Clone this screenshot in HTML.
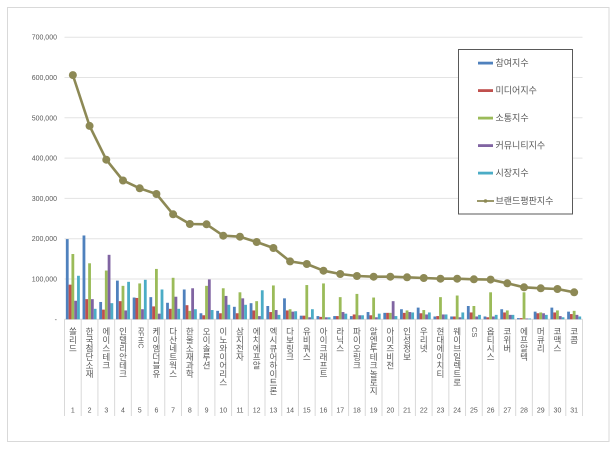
<!DOCTYPE html>
<html><head><meta charset="utf-8">
<style>
html,body{margin:0;padding:0;background:#fff;}
#w{position:relative;width:615px;height:451px;overflow:hidden;background:#fff;font-family:"Liberation Sans","Noto Sans CJK KR",sans-serif;}
svg{position:absolute;left:0;top:0;}
.b{fill:#4F81BD}.r{fill:#C0504D}.g{fill:#9BBB59}.p{fill:#8064A2}.c{fill:#4BACC6}
.lb{position:absolute;top:327px;width:10px;writing-mode:vertical-rl;text-orientation:mixed;font-size:8.5px;line-height:10px;color:#595959;white-space:nowrap;}
</style></head><body><div id="w">
<svg width="615" height="451" viewBox="0 0 615 451" xmlns="http://www.w3.org/2000/svg">
<rect x="7.5" y="7.5" width="601.5" height="434" fill="#fff" stroke="#d9d9d9"/>
<g stroke="#e3e3e3" stroke-width="1">
<line x1="64.5" x2="582.5" y1="37.2" y2="37.2"/>
<line x1="64.5" x2="582.5" y1="77.5" y2="77.5"/>
<line x1="64.5" x2="582.5" y1="117.8" y2="117.8"/>
<line x1="64.5" x2="582.5" y1="158.1" y2="158.1"/>
<line x1="64.5" x2="582.5" y1="198.4" y2="198.4"/>
<line x1="64.5" x2="582.5" y1="238.7" y2="238.7"/>
<line x1="64.5" x2="582.5" y1="279" y2="279"/>
</g>
<g font-size="7" fill="#595959" text-anchor="end" font-family="Liberation Sans, sans-serif">
<text x="57" y="39.7">700,000</text>
<text x="57" y="80">600,000</text>
<text x="57" y="120.3">500,000</text>
<text x="57" y="160.6">400,000</text>
<text x="57" y="200.9">300,000</text>
<text x="57" y="241.2">200,000</text>
<text x="57" y="281.5">100,000</text>
<text x="57" y="321.8">-</text>
</g>
<g stroke="#d9d9d9" stroke-width="1">
<line x1="64.5" x2="64.5" y1="319.3" y2="416"/>
<line x1="81.21" x2="81.21" y1="319.3" y2="416"/>
<line x1="97.92" x2="97.92" y1="319.3" y2="416"/>
<line x1="114.63" x2="114.63" y1="319.3" y2="416"/>
<line x1="131.34" x2="131.34" y1="319.3" y2="416"/>
<line x1="148.05" x2="148.05" y1="319.3" y2="416"/>
<line x1="164.76" x2="164.76" y1="319.3" y2="416"/>
<line x1="181.47" x2="181.47" y1="319.3" y2="416"/>
<line x1="198.18" x2="198.18" y1="319.3" y2="416"/>
<line x1="214.89" x2="214.89" y1="319.3" y2="416"/>
<line x1="231.6" x2="231.6" y1="319.3" y2="416"/>
<line x1="248.31" x2="248.31" y1="319.3" y2="416"/>
<line x1="265.02" x2="265.02" y1="319.3" y2="416"/>
<line x1="281.73" x2="281.73" y1="319.3" y2="416"/>
<line x1="298.44" x2="298.44" y1="319.3" y2="416"/>
<line x1="315.15" x2="315.15" y1="319.3" y2="416"/>
<line x1="331.86" x2="331.86" y1="319.3" y2="416"/>
<line x1="348.57" x2="348.57" y1="319.3" y2="416"/>
<line x1="365.28" x2="365.28" y1="319.3" y2="416"/>
<line x1="381.99" x2="381.99" y1="319.3" y2="416"/>
<line x1="398.7" x2="398.7" y1="319.3" y2="416"/>
<line x1="415.41" x2="415.41" y1="319.3" y2="416"/>
<line x1="432.12" x2="432.12" y1="319.3" y2="416"/>
<line x1="448.83" x2="448.83" y1="319.3" y2="416"/>
<line x1="465.54" x2="465.54" y1="319.3" y2="416"/>
<line x1="482.25" x2="482.25" y1="319.3" y2="416"/>
<line x1="498.96" x2="498.96" y1="319.3" y2="416"/>
<line x1="515.67" x2="515.67" y1="319.3" y2="416"/>
<line x1="532.38" x2="532.38" y1="319.3" y2="416"/>
<line x1="549.09" x2="549.09" y1="319.3" y2="416"/>
<line x1="565.8" x2="565.8" y1="319.3" y2="416"/>
<line x1="582.51" x2="582.51" y1="319.3" y2="416"/>
<line x1="64.5" x2="582.5" y1="319.3" y2="319.3"/>
</g>
<g transform="translate(0 319.3) scale(1 -0.403)">
<g transform="translate(64.5 0)"><rect class="b" x="1.35" width="2.8" height="199"/><rect class="r" x="4.15" width="2.8" height="86"/><rect class="g" x="6.95" width="2.8" height="162"/><rect class="p" x="9.75" width="2.8" height="46"/><rect class="c" x="12.55" width="2.8" height="108"/></g>
<g transform="translate(81.21 0)"><rect class="b" x="1.35" width="2.8" height="208"/><rect class="r" x="4.15" width="2.8" height="50"/><rect class="g" x="6.95" width="2.8" height="139"/><rect class="p" x="9.75" width="2.8" height="50"/><rect class="c" x="12.55" width="2.8" height="26"/></g>
<g transform="translate(97.92 0)"><rect class="b" x="1.35" width="2.8" height="43"/><rect class="r" x="4.15" width="2.8" height="24"/><rect class="g" x="6.95" width="2.8" height="121"/><rect class="p" x="9.75" width="2.8" height="160"/><rect class="c" x="12.55" width="2.8" height="40"/></g>
<g transform="translate(114.63 0)"><rect class="b" x="1.35" width="2.8" height="96"/><rect class="r" x="4.15" width="2.8" height="45"/><rect class="g" x="6.95" width="2.8" height="83"/><rect class="p" x="9.75" width="2.8" height="22"/><rect class="c" x="12.55" width="2.8" height="93"/></g>
<g transform="translate(131.34 0)"><rect class="b" x="1.35" width="2.8" height="54"/><rect class="r" x="4.15" width="2.8" height="53"/><rect class="g" x="6.95" width="2.8" height="89"/><rect class="p" x="9.75" width="2.8" height="25"/><rect class="c" x="12.55" width="2.8" height="98"/></g>
<g transform="translate(148.05 0)"><rect class="b" x="1.35" width="2.8" height="55"/><rect class="r" x="4.15" width="2.8" height="32"/><rect class="g" x="6.95" width="2.8" height="125"/><rect class="p" x="9.75" width="2.8" height="14"/><rect class="c" x="12.55" width="2.8" height="74"/></g>
<g transform="translate(164.76 0)"><rect class="b" x="1.35" width="2.8" height="41"/><rect class="r" x="4.15" width="2.8" height="26"/><rect class="g" x="6.95" width="2.8" height="103"/><rect class="p" x="9.75" width="2.8" height="56"/><rect class="c" x="12.55" width="2.8" height="26"/></g>
<g transform="translate(181.47 0)"><rect class="b" x="1.35" width="2.8" height="74"/><rect class="r" x="4.15" width="2.8" height="35"/><rect class="g" x="6.95" width="2.8" height="21"/><rect class="p" x="9.75" width="2.8" height="77"/><rect class="c" x="12.55" width="2.8" height="25"/></g>
<g transform="translate(198.18 0)"><rect class="b" x="1.35" width="2.8" height="15"/><rect class="r" x="4.15" width="2.8" height="10"/><rect class="g" x="6.95" width="2.8" height="83"/><rect class="p" x="9.75" width="2.8" height="99"/><rect class="c" x="12.55" width="2.8" height="23"/></g>
<g transform="translate(214.89 0)"><rect class="b" x="1.35" width="2.8" height="21"/><rect class="r" x="4.15" width="2.8" height="15"/><rect class="g" x="6.95" width="2.8" height="77"/><rect class="p" x="9.75" width="2.8" height="58"/><rect class="c" x="12.55" width="2.8" height="36"/></g>
<g transform="translate(231.6 0)"><rect class="b" x="1.35" width="2.8" height="31"/><rect class="r" x="4.15" width="2.8" height="15"/><rect class="g" x="6.95" width="2.8" height="67"/><rect class="p" x="9.75" width="2.8" height="52"/><rect class="c" x="12.55" width="2.8" height="36"/></g>
<g transform="translate(248.31 0)"><rect class="b" x="1.35" width="2.8" height="40"/><rect class="r" x="4.15" width="2.8" height="22"/><rect class="g" x="6.95" width="2.8" height="45"/><rect class="p" x="9.75" width="2.8" height="8"/><rect class="c" x="12.55" width="2.8" height="72"/></g>
<g transform="translate(265.02 0)"><rect class="b" x="1.35" width="2.8" height="33"/><rect class="r" x="4.15" width="2.8" height="18"/><rect class="g" x="6.95" width="2.8" height="84"/><rect class="p" x="9.75" width="2.8" height="23"/><rect class="c" x="12.55" width="2.8" height="11"/></g>
<g transform="translate(281.73 0)"><rect class="b" x="1.35" width="2.8" height="52"/><rect class="r" x="4.15" width="2.8" height="22"/><rect class="g" x="6.95" width="2.8" height="25"/><rect class="p" x="9.75" width="2.8" height="19"/><rect class="c" x="12.55" width="2.8" height="20"/></g>
<g transform="translate(298.44 0)"><rect class="b" x="1.35" width="2.8" height="9"/><rect class="r" x="4.15" width="2.8" height="9"/><rect class="g" x="6.95" width="2.8" height="85"/><rect class="p" x="9.75" width="2.8" height="5"/><rect class="c" x="12.55" width="2.8" height="25"/></g>
<g transform="translate(315.15 0)"><rect class="b" x="1.35" width="2.8" height="8"/><rect class="r" x="4.15" width="2.8" height="6"/><rect class="g" x="6.95" width="2.8" height="89"/><rect class="p" x="9.75" width="2.8" height="5"/><rect class="c" x="12.55" width="2.8" height="5"/></g>
<g transform="translate(331.86 0)"><rect class="b" x="1.35" width="2.8" height="8"/><rect class="r" x="4.15" width="2.8" height="8"/><rect class="g" x="6.95" width="2.8" height="55"/><rect class="p" x="9.75" width="2.8" height="18"/><rect class="c" x="12.55" width="2.8" height="14"/></g>
<g transform="translate(348.57 0)"><rect class="b" x="1.35" width="2.8" height="8"/><rect class="r" x="4.15" width="2.8" height="12"/><rect class="g" x="6.95" width="2.8" height="63"/><rect class="p" x="9.75" width="2.8" height="10"/><rect class="c" x="12.55" width="2.8" height="10"/></g>
<g transform="translate(365.28 0)"><rect class="b" x="1.35" width="2.8" height="18"/><rect class="r" x="4.15" width="2.8" height="10"/><rect class="g" x="6.95" width="2.8" height="54"/><rect class="p" x="9.75" width="2.8" height="5"/><rect class="c" x="12.55" width="2.8" height="14"/></g>
<g transform="translate(381.99 0)"><rect class="b" x="1.35" width="2.8" height="16"/><rect class="r" x="4.15" width="2.8" height="16"/><rect class="g" x="6.95" width="2.8" height="16"/><rect class="p" x="9.75" width="2.8" height="45"/><rect class="c" x="12.55" width="2.8" height="8"/></g>
<g transform="translate(398.7 0)"><rect class="b" x="1.35" width="2.8" height="25"/><rect class="r" x="4.15" width="2.8" height="16"/><rect class="g" x="6.95" width="2.8" height="22"/><rect class="p" x="9.75" width="2.8" height="18"/><rect class="c" x="12.55" width="2.8" height="17"/></g>
<g transform="translate(415.41 0)"><rect class="b" x="1.35" width="2.8" height="29"/><rect class="r" x="4.15" width="2.8" height="15"/><rect class="g" x="6.95" width="2.8" height="23"/><rect class="p" x="9.75" width="2.8" height="12"/><rect class="c" x="12.55" width="2.8" height="17"/></g>
<g transform="translate(432.12 0)"><rect class="b" x="1.35" width="2.8" height="7"/><rect class="r" x="4.15" width="2.8" height="8"/><rect class="g" x="6.95" width="2.8" height="55"/><rect class="p" x="9.75" width="2.8" height="12"/><rect class="c" x="12.55" width="2.8" height="12"/></g>
<g transform="translate(448.83 0)"><rect class="b" x="1.35" width="2.8" height="7"/><rect class="r" x="4.15" width="2.8" height="7"/><rect class="g" x="6.95" width="2.8" height="59"/><rect class="p" x="9.75" width="2.8" height="5"/><rect class="c" x="12.55" width="2.8" height="17"/></g>
<g transform="translate(465.54 0)"><rect class="b" x="1.35" width="2.8" height="33"/><rect class="r" x="4.15" width="2.8" height="17"/><rect class="g" x="6.95" width="2.8" height="33"/><rect class="p" x="9.75" width="2.8" height="7"/><rect class="c" x="12.55" width="2.8" height="11"/></g>
<g transform="translate(482.25 0)"><rect class="b" x="1.35" width="2.8" height="7"/><rect class="r" x="4.15" width="2.8" height="5"/><rect class="g" x="6.95" width="2.8" height="67"/><rect class="p" x="9.75" width="2.8" height="7"/><rect class="c" x="12.55" width="2.8" height="11"/></g>
<g transform="translate(498.96 0)"><rect class="b" x="1.35" width="2.8" height="25"/><rect class="r" x="4.15" width="2.8" height="17"/><rect class="g" x="6.95" width="2.8" height="22"/><rect class="p" x="9.75" width="2.8" height="11"/><rect class="c" x="12.55" width="2.8" height="11"/></g>
<g transform="translate(515.67 0)"><rect class="b" x="1.35" width="2.8" height="3"/><rect class="r" x="4.15" width="2.8" height="3"/><rect class="g" x="6.95" width="2.8" height="67"/><rect class="p" x="9.75" width="2.8" height="2"/><rect class="c" x="12.55" width="2.8" height="2"/></g>
<g transform="translate(532.38 0)"><rect class="b" x="1.35" width="2.8" height="19"/><rect class="r" x="4.15" width="2.8" height="15"/><rect class="g" x="6.95" width="2.8" height="17"/><rect class="p" x="9.75" width="2.8" height="15"/><rect class="c" x="12.55" width="2.8" height="11"/></g>
<g transform="translate(549.09 0)"><rect class="b" x="1.35" width="2.8" height="29"/><rect class="r" x="4.15" width="2.8" height="17"/><rect class="g" x="6.95" width="2.8" height="22"/><rect class="p" x="9.75" width="2.8" height="8"/><rect class="c" x="12.55" width="2.8" height="5"/></g>
<g transform="translate(565.8 0)"><rect class="b" x="1.35" width="2.8" height="19"/><rect class="r" x="4.15" width="2.8" height="13"/><rect class="g" x="6.95" width="2.8" height="21"/><rect class="p" x="9.75" width="2.8" height="11"/><rect class="c" x="12.55" width="2.8" height="7"/></g>
</g>
<polyline fill="none" stroke="#8d8955" stroke-width="2.6" stroke-linejoin="round" points="72.86,75.1 89.57,125.9 106.28,159.7 122.99,180.5 139.7,188.3 156.41,194 173.12,214.3 189.83,224 206.54,224.3 223.25,235.7 239.96,236.7 256.67,242 273.38,248 290.09,261.4 306.8,264 323.51,270.7 340.22,274 356.93,276 373.64,276.7 390.35,276.7 407.06,277.3 423.77,278 440.48,278.7 457.19,278.7 473.9,279.3 490.61,279.6 507.32,283.3 524.03,287.3 540.74,288.3 557.45,289 574.16,292.3"/>
<g fill="#8d8955">
<circle cx="72.86" cy="75.1" r="4"/><circle cx="89.57" cy="125.9" r="4"/><circle cx="106.28" cy="159.7" r="4"/><circle cx="122.99" cy="180.5" r="4"/><circle cx="139.7" cy="188.3" r="4"/><circle cx="156.41" cy="194" r="4"/><circle cx="173.12" cy="214.3" r="4"/><circle cx="189.83" cy="224" r="4"/><circle cx="206.54" cy="224.3" r="4"/><circle cx="223.25" cy="235.7" r="4"/><circle cx="239.96" cy="236.7" r="4"/><circle cx="256.67" cy="242" r="4"/><circle cx="273.38" cy="248" r="4"/><circle cx="290.09" cy="261.4" r="4"/><circle cx="306.8" cy="264" r="4"/><circle cx="323.51" cy="270.7" r="4"/><circle cx="340.22" cy="274" r="4"/><circle cx="356.93" cy="276" r="4"/><circle cx="373.64" cy="276.7" r="4"/><circle cx="390.35" cy="276.7" r="4"/><circle cx="407.06" cy="277.3" r="4"/><circle cx="423.77" cy="278" r="4"/><circle cx="440.48" cy="278.7" r="4"/><circle cx="457.19" cy="278.7" r="4"/><circle cx="473.9" cy="279.3" r="4"/><circle cx="490.61" cy="279.6" r="4"/><circle cx="507.32" cy="283.3" r="4"/><circle cx="524.03" cy="287.3" r="4"/><circle cx="540.74" cy="288.3" r="4"/><circle cx="557.45" cy="289" r="4"/><circle cx="574.16" cy="292.3" r="4"/>
</g>
<g font-size="7" fill="#595959" text-anchor="middle" font-family="Liberation Sans, sans-serif">
<text x="72.86" y="412.5">1</text><text x="89.57" y="412.5">2</text><text x="106.28" y="412.5">3</text><text x="122.99" y="412.5">4</text><text x="139.7" y="412.5">5</text><text x="156.41" y="412.5">6</text><text x="173.12" y="412.5">7</text><text x="189.83" y="412.5">8</text><text x="206.54" y="412.5">9</text><text x="223.25" y="412.5">10</text><text x="239.96" y="412.5">11</text><text x="256.67" y="412.5">12</text><text x="273.38" y="412.5">13</text><text x="290.09" y="412.5">14</text><text x="306.8" y="412.5">15</text><text x="323.51" y="412.5">16</text><text x="340.22" y="412.5">17</text><text x="356.93" y="412.5">18</text><text x="373.64" y="412.5">19</text><text x="390.35" y="412.5">20</text><text x="407.06" y="412.5">21</text><text x="423.77" y="412.5">22</text><text x="440.48" y="412.5">23</text><text x="457.19" y="412.5">24</text><text x="473.9" y="412.5">25</text><text x="490.61" y="412.5">26</text><text x="507.32" y="412.5">27</text><text x="524.03" y="412.5">28</text><text x="540.74" y="412.5">29</text><text x="557.45" y="412.5">30</text><text x="574.16" y="412.5">31</text>
</g>
<rect x="458.5" y="49.5" width="114" height="164.5" fill="#fff" stroke="#595959" stroke-width="1"/>
<rect x="478" y="61.7" width="15" height="2.8" fill="#4F81BD"/>
<rect x="478" y="89.2" width="15" height="2.8" fill="#C0504D"/>
<rect x="478" y="116.7" width="15" height="2.8" fill="#9BBB59"/>
<rect x="478" y="144.2" width="15" height="2.8" fill="#8064A2"/>
<rect x="478" y="171.7" width="15" height="2.8" fill="#4BACC6"/>
<line x1="477" x2="494" y1="201" y2="201" stroke="#8d8955" stroke-width="1.8"/>
<circle cx="485.5" cy="201" r="1.8" fill="#8d8955"/>
<g font-size="9" fill="#595959" font-family="Liberation Sans, Noto Sans CJK KR, sans-serif">
<text x="495.5" y="66.2">참여지수</text>
<text x="495.5" y="93.7">미디어지수</text>
<text x="495.5" y="121.2">소통지수</text>
<text x="495.5" y="148.7">커뮤니티지수</text>
<text x="495.5" y="176.2">시장지수</text>
<text x="495.5" y="204.2">브랜드평판지수</text>
</g>
</svg>
<div class="lb" style="left:67.86px">쏠리드</div>
<div class="lb" style="left:84.57px">한국첨단소재</div>
<div class="lb" style="left:101.28px">에이스테크</div>
<div class="lb" style="left:117.99px">인텔리안테크</div>
<div class="lb" style="left:134.7px;font-size:7px">RFHIC</div>
<div class="lb" style="left:151.41px">케이엠더블유</div>
<div class="lb" style="left:168.12px">다산네트웍스</div>
<div class="lb" style="left:184.83px">한울소재과학</div>
<div class="lb" style="left:201.54px">오이솔루션</div>
<div class="lb" style="left:218.25px">이노와이어리스</div>
<div class="lb" style="left:234.96px">삼지전자</div>
<div class="lb" style="left:251.67px">에치에프알</div>
<div class="lb" style="left:268.38px">엑시큐어하이트론</div>
<div class="lb" style="left:285.09px">다보링크</div>
<div class="lb" style="left:301.8px">유비쿼스</div>
<div class="lb" style="left:318.51px">아이크래프트</div>
<div class="lb" style="left:335.22px">라닉스</div>
<div class="lb" style="left:351.93px">파이오링크</div>
<div class="lb" style="left:368.64px">알엔투테크놀로지</div>
<div class="lb" style="left:385.35px">아이즈비전</div>
<div class="lb" style="left:402.06px">인성정보</div>
<div class="lb" style="left:418.77px">우리넷</div>
<div class="lb" style="left:435.48px">현대에이치티</div>
<div class="lb" style="left:452.19px">웨이브일렉트로</div>
<div class="lb" style="left:468.9px;font-size:7.5px">CS</div>
<div class="lb" style="left:485.61px">옵티시스</div>
<div class="lb" style="left:502.32px">코위버</div>
<div class="lb" style="left:519.03px">에프알텍</div>
<div class="lb" style="left:535.74px">머큐리</div>
<div class="lb" style="left:552.45px">코맥스</div>
<div class="lb" style="left:569.16px">코콤</div>
</div></body></html>
